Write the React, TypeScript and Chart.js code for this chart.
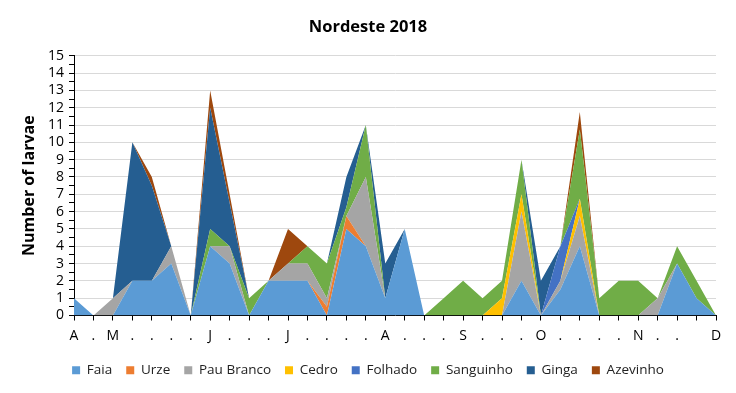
import React, { useEffect, useRef } from 'react';
import { Chart, registerables } from 'chart.js';

Chart.register(...registerables);

const weekLabels = ['A', '.', 'M', '.', '.', '.', '.', 'J', '.', '.', '.', 'J', '.', '.', '.', '.', 'A', '.', '.', '.', 'S', '.', '.', '.', 'O', '.', '.', '.', '.', 'N', '.', '.', '', 'D'];

const faia = [1, 0, 0, 2, 2, 3, 0, 4, 3, 0, 2, 2, 2, 0, 5, 4, 1, 5, 0, 0, 0, 0, 0, 2, 0, 1.5, 4, 0, 0, 0, 0, 3, 1, 0];
const urze = [0, 0, 0, 0, 0, 0, 0, 0, 0, 0, 0, 0, 0, 0.5, 0.75, 0, 0, 0, 0, 0, 0, 0, 0, 0, 0, 0, 0, 0, 0, 0, 0, 0, 0, 0];
const pauBranco = [0, 0, 1, 0, 0, 1, 0, 0, 1, 0, 0, 1, 1, 0.5, 0, 4, 0, 0, 0, 0, 0, 0, 0, 4, 0, 0.5, 1.75, 0, 0, 0, 1, 0, 0, 0];
const cedro = [0, 0, 0, 0, 0, 0, 0, 0, 0, 0, 0, 0, 0, 0, 0, 0, 0, 0, 0, 0, 0, 0, 1, 1, 0, 0, 1, 0, 0, 0, 0, 0, 0, 0];
const folhado = [0, 0, 0, 0, 0, 0, 0, 0, 0, 0, 0, 0, 0, 0, 0, 0, 0, 0, 0, 0, 0, 0, 0, 0, 0, 2, 0, 0, 0, 0, 0, 0, 0, 0];
const sanguinho = [0, 0, 0, 0, 0, 0, 0, 1, 0, 1, 0, 0, 1, 2, 0.5, 3, 0, 0, 0, 1, 2, 1, 1, 2, 0, 0, 4, 1, 2, 2, 0, 1, 1, 0];
const ginga = [0, 0, 0, 8, 5.5, 0, 0, 7, 2.5, 0, 0, 0, 0, 0, 1.75, 0, 2, 0, 0, 0, 0, 0, 0, 0, 2, 0, 0, 0, 0, 0, 0, 0, 0, 0];
const azevinho = [0, 0, 0, 0, 0.5, 0, 0, 1, 0.5, 0, 0, 2, 0, 0, 0, 0, 0, 0, 0, 0, 0, 0, 0, 0, 0, 0, 1, 0, 0, 0, 0, 0, 0, 0];

const seriesNames = ['Faia', 'Urze', 'Pau Branco', 'Cedro', 'Folhado', 'Sanguinho', 'Ginga', 'Azevinho'];
const seriesData = [faia, urze, pauBranco, cedro, folhado, sanguinho, ginga, azevinho];
const seriesColors = ['#5B9BD5', '#ED7D31', '#A5A5A5', '#FFC000', '#4472C4', '#70AD47', '#255E91', '#9E480E'];

const FONT = "'Open Sans', 'Liberation Sans', sans-serif";

export default function App() {
  const canvasRef = useRef<HTMLCanvasElement | null>(null);

  useEffect(() => {
    document.body.style.margin = '0';
    const canvas = canvasRef.current;
    if (!canvas) return;
    const chart = new Chart(canvas, {
      type: 'line',
      data: {
        labels: weekLabels,
        datasets: seriesNames.map((name, i) => ({
          label: name,
          data: seriesData[i],
          backgroundColor: seriesColors[i],
          borderColor: seriesColors[i],
          borderWidth: 0,
          pointRadius: 0,
          pointHoverRadius: 0,
          tension: 0,
          fill: i === 0 ? 'origin' : '-1',
        })),
      },
      options: {
        animation: false,
        responsive: false,
        maintainAspectRatio: false,
        layout: { padding: { left: 20, right: 20, top: 0, bottom: 6 } },
        plugins: {
          tooltip: { enabled: false },
          title: {
            display: true,
            text: 'Nordeste 2018',
            color: '#000',
            font: { family: FONT, size: 16.5, weight: 'bold' },
            padding: { top: 17, bottom: 19 },
          },
          legend: {
            position: 'bottom',
            labels: {
              boxWidth: 8,
              boxHeight: 8,
              padding: 14,
              color: '#222',
              font: { family: FONT, size: 13.5 },
            },
          },
        },
        scales: {
          x: {
            offset: false,
            grid: {
              drawOnChartArea: false,
              drawTicks: true,
              tickLength: 5,
              color: '#000',
            },
            border: { color: '#000', width: 1 },
            ticks: {
              autoSkip: false,
              maxRotation: 0,
              minRotation: 0,
              padding: 7,
              color: '#000',
              font: { family: FONT, size: 14 },
            },
            afterFit: (scale: any) => {
              scale.height = 34;
            },
          },
          y: {
            stacked: true,
            min: 0,
            max: 15,
            grid: {
              color: (ctx: any) => {
                const v = ctx.tick ? ctx.tick.value : 0;
                return Number.isInteger(v) && v !== 0 ? '#D9D9D9' : 'rgba(0,0,0,0)';
              },
              tickColor: '#000',
              tickLength: 5,
              lineWidth: 1,
            },
            border: { color: '#000', width: 1 },
            ticks: {
              stepSize: 0.5,
              autoSkip: false,
              padding: 5,
              color: '#000',
              font: { family: FONT, size: 14 },
              callback: (v: any) => (Number.isInteger(v) ? String(v) : ''),
            },
            title: {
              display: true,
              text: 'Number of larvae',
              color: '#000',
              font: { family: FONT, size: 16, weight: 'bold' },
              padding: { top: 0, bottom: 0 },
            },
            afterFit: (scale: any) => {
              scale.width = 54;
            },
          },
        },
      },
    });
    return () => chart.destroy();
  }, []);

  return (
    <div style={{ width: 736, height: 393, background: '#fff' }}>
      <canvas ref={canvasRef} width={736} height={393} style={{ display: 'block', width: 736, height: 393 }} />
    </div>
  );
}
